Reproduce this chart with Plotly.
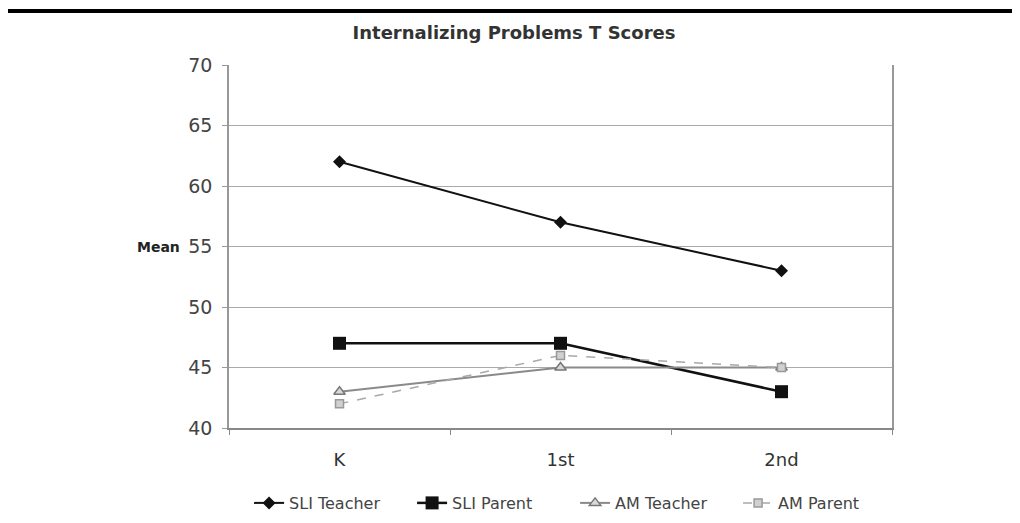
import plotly.graph_objects as go

categories = ["K", "1st", "2nd"]
sli_teacher = [62, 57, 53]
sli_parent = [47, 47, 43]
am_teacher = [43, 45, 45]
am_parent = [42, 46, 45]
y_ticks = [40, 45, 50, 55, 60, 65, 70]

FONT = "DejaVu Sans, Liberation Sans, Arial"

fig = go.Figure()
fig.add_trace(go.Scatter(x=categories, y=sli_teacher, name="SLI Teacher", mode="lines+markers",
                         line=dict(color="#111111", width=2),
                         marker=dict(symbol="diamond", size=10, color="#111111")))
fig.add_trace(go.Scatter(x=categories, y=sli_parent, name="SLI Parent", mode="lines+markers",
                         line=dict(color="#111111", width=2.5),
                         marker=dict(symbol="square", size=13, color="#111111")))
fig.add_trace(go.Scatter(x=categories, y=am_teacher, name="AM Teacher", mode="lines+markers",
                         line=dict(color="#8a8a8a", width=2),
                         marker=dict(symbol="triangle-up", size=10, color="#d8d8d8",
                                     line=dict(color="#777777", width=1.5))))
fig.add_trace(go.Scatter(x=categories, y=am_parent, name="AM Parent", mode="lines+markers",
                         line=dict(color="#a8a8a8", width=1.5, dash="dash"),
                         marker=dict(symbol="square", size=8, color="#d0d0d0",
                                     line=dict(color="#999999", width=1.5))))

fig.add_annotation(x=-0.107, y=55, xref="paper", yref="y", text="<b>Mean</b>", showarrow=False,
                   xanchor="center", font=dict(size=14, color="#222222", family=FONT))

fig.add_shape(type="rect", xref="paper", yref="paper", x0=-0.34, x1=1.2, y0=1.143, y1=1.154,
              fillcolor="#000000", line=dict(width=0))

fig.update_layout(
    width=1012, height=515,
    margin=dict(l=221, r=128, t=57, b=95, autoexpand=False),
    paper_bgcolor="white", plot_bgcolor="white",
    title=dict(text="<b>Internalizing Problems T Scores</b>", x=0.5, xref="container", y=1 - 25 / 515,
               yanchor="middle", xanchor="center",
               font=dict(size=18, color="#333333", family=FONT)),
    font=dict(family=FONT, color="#333333"),
    showlegend=True,
    legend=dict(orientation="h", x=0.522, xanchor="center", y=-0.2066, yanchor="middle",
                font=dict(size=16, color="#444444", family=FONT), tracegroupgap=0,
                entrywidth=118, entrywidthmode="pixels"),
    xaxis=dict(type="category", range=[-0.5, 2.5], showgrid=False, showline=True,
               linecolor="#888888", linewidth=1.5, ticks="outside", tickson="boundaries",
               ticklen=5, tickcolor="#888888", ticklabelstandoff=15,
               tickfont=dict(size=18, color="#333333", family=FONT)),
    yaxis=dict(range=[40, 70], tickvals=y_ticks, showgrid=True, gridcolor="#aaaaaa", gridwidth=1,
               showline=True, linecolor="#999999", linewidth=1.5, mirror=True, ticks="outside",
               ticklen=5, tickcolor="#999999", zeroline=False, ticklabelstandoff=6,
               tickfont=dict(size=19, color="#444444", family=FONT)),
)

fig.write_html("out.html")
